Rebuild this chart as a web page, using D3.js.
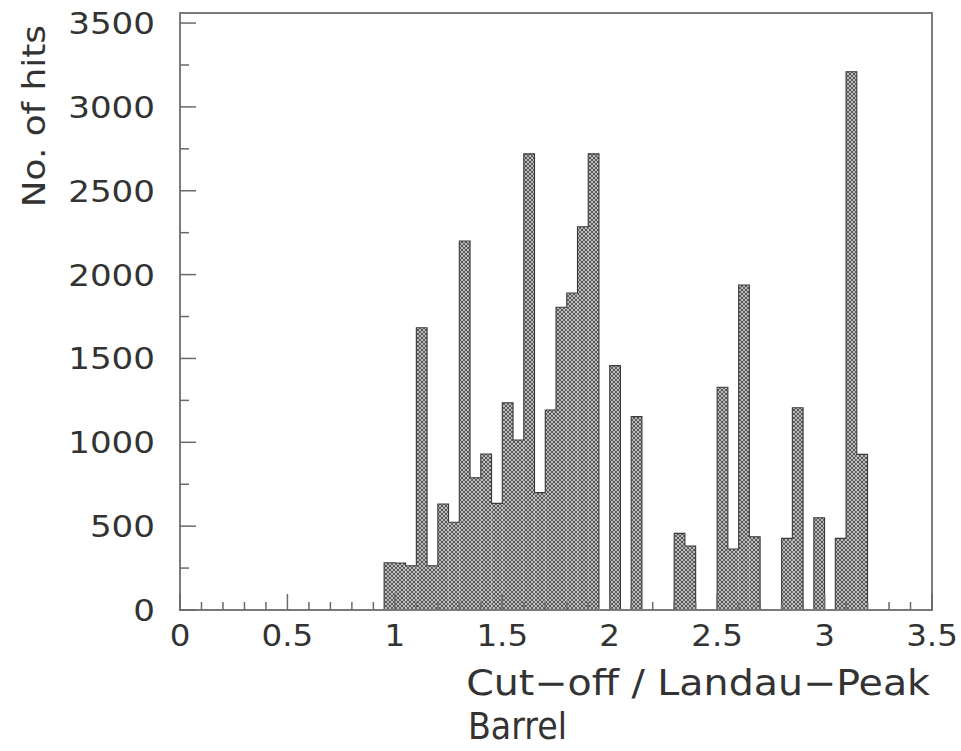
<!DOCTYPE html>
<html>
<head>
<meta charset="utf-8">
<script src="https://cdn.jsdelivr.net/npm/d3@7"></script>
<style>
  html, body { margin: 0; padding: 0; background: #fff; }
  svg { display: block; }
  text { font-family: "DejaVu Sans", sans-serif; fill: #333; }
</style>
</head>
<body>
<svg id="chart" width="961" height="751"></svg>
<script>
// Histogram bins: lower edge of each filled 0.05-wide bin and its count
const binLow = [0.95, 1.00, 1.05, 1.10, 1.15, 1.20, 1.25, 1.30, 1.35, 1.40,
                1.45, 1.50, 1.55, 1.60, 1.65, 1.70, 1.75, 1.80, 1.85, 1.90,
                2.00, 2.10, 2.30, 2.35, 2.50, 2.55, 2.60, 2.65, 2.80, 2.85,
                2.95, 3.05, 3.10, 3.15];
const hits   = [282, 280, 264, 1683, 264, 632, 523, 2200, 789, 930,
                636, 1236, 1014, 2720, 700, 1193, 1805, 1890, 2285, 2720,
                1457, 1153, 457, 382, 1328, 364, 1938, 437, 427, 1206,
                550, 427, 3210, 928];
const binWidth = 0.05;

// Axis ticks and labels
const xMajor = [0, 0.5, 1, 1.5, 2, 2.5, 3, 3.5];
const xLabels = ["0", "0.5", "1", "1.5", "2", "2.5", "3", "3.5"];
const xMinor = [0.1, 0.2, 0.3, 0.4, 0.6, 0.7, 0.8, 0.9, 1.1, 1.2, 1.3, 1.4,
                1.6, 1.7, 1.8, 1.9, 2.1, 2.2, 2.3, 2.4, 2.6, 2.7, 2.8, 2.9,
                3.1, 3.2, 3.3, 3.4];
const yMajor = [0, 500, 1000, 1500, 2000, 2500, 3000, 3500];
const yMinor = [250, 750, 1250, 1750, 2250, 2750, 3250];

const xTitle = "Cut\u2212off / Landau\u2212Peak";
const yTitle = "No. of hits";
const subTitle = "Barrel";

const svg = d3.select("#chart");
const frame = { left: 180, right: 932, top: 13, bottom: 610 };

const x = d3.scaleLinear().domain([0, 3.5]).range([frame.left, frame.right]);
const y = d3.scaleLinear().domain([0, 3560]).range([frame.bottom, frame.top]);

// cross-hatch fill used by the histogram
const defs = svg.append("defs");
const pat = defs.append("pattern")
  .attr("id", "hatch")
  .attr("patternUnits", "userSpaceOnUse")
  .attr("width", 4).attr("height", 4);
pat.append("rect").attr("width", 4).attr("height", 4).attr("fill", "#bcbcbc");
pat.append("path")
  .attr("d", "M0,0 L4,4 M4,0 L0,4")
  .attr("stroke", "#555").attr("stroke-width", 0.9);
pat.append("circle").attr("cx", 2).attr("cy", 2).attr("r", 0.6).attr("fill", "#333");

const bins = binLow.map((b, i) => ({ lo: b, hi: b + binWidth, v: hits[i] }));

// filled bars
svg.append("g").selectAll("rect")
  .data(bins)
  .join("rect")
  .attr("x", d => x(d.lo))
  .attr("y", d => y(d.v))
  .attr("width", d => x(d.hi) - x(d.lo))
  .attr("height", d => y(0) - y(d.v))
  .attr("fill", "url(#hatch)");

// step outline of the histogram (no lines between equal neighbours)
const eps = 1e-6;
let pts = [];
bins.forEach((d, i) => {
  const prev = bins[i - 1];
  if (!prev || Math.abs(prev.hi - d.lo) > eps) {
    pts.push([d.lo, 0]);
  }
  pts.push([d.lo, d.v], [d.hi, d.v]);
  const next = bins[i + 1];
  if (!next || Math.abs(next.lo - d.hi) > eps) {
    pts.push([d.hi, 0]);
  }
});
svg.append("path")
  .attr("d", d3.line().x(p => x(p[0])).y(p => y(p[1]))(pts))
  .attr("fill", "none")
  .attr("stroke", "#3a3a3a")
  .attr("stroke-width", 1.1);

// frame
svg.append("rect")
  .attr("x", frame.left).attr("y", frame.top)
  .attr("width", frame.right - frame.left).attr("height", frame.bottom - frame.top)
  .attr("fill", "none").attr("stroke", "#7a7a7a").attr("stroke-width", 2);

// ticks (drawn inward)
const tg = svg.append("g").attr("stroke", "#6a6a6a").attr("stroke-width", 1.5);
tg.selectAll("line.xM").data(xMajor).join("line")
  .attr("x1", d => x(d)).attr("x2", d => x(d))
  .attr("y1", frame.bottom).attr("y2", frame.bottom - 16);
tg.selectAll("line.xm").data(xMinor).join("line")
  .attr("x1", d => x(d)).attr("x2", d => x(d))
  .attr("y1", frame.bottom).attr("y2", frame.bottom - 8);
tg.selectAll("line.yM").data(yMajor).join("line")
  .attr("x1", frame.left).attr("x2", frame.left + 16)
  .attr("y1", d => y(d)).attr("y2", d => y(d));
tg.selectAll("line.ym").data(yMinor).join("line")
  .attr("x1", frame.left).attr("x2", frame.left + 9)
  .attr("y1", d => y(d)).attr("y2", d => y(d));

function label(g, tx, ty, txt, size, anchor, sx, rot) {
  const t = g.append("g")
    .attr("transform", `translate(${tx},${ty})` + (rot ? ` rotate(${rot})` : "") + ` scale(${sx},1)`);
  t.append("text")
    .attr("font-size", size)
    .attr("text-anchor", anchor)
    .text(txt);
}

const lg = svg.append("g");
yMajor.forEach(v => label(lg, 155, y(v) + 11, String(v), 31, "end", 1.1));
xMajor.forEach((v, i) => label(lg, x(v), 646, xLabels[i], 31, "middle", 1.05));

label(lg, 930, 695, xTitle, 35, "end", 1.13);
label(lg, 468, 739, subTitle, 37, "start", 0.9);
label(lg, 45, 25, yTitle, 32, "end", 1.12, -90);
</script>
</body>
</html>
